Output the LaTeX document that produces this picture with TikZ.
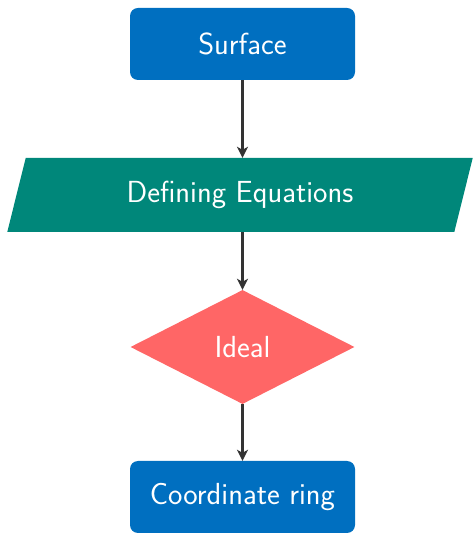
\documentclass[tikz,border=0pt]{standalone}
\usetikzlibrary{shapes.geometric,arrows.meta}

\definecolor{boxblue}{RGB}{0,111,192}
\definecolor{parteal}{RGB}{0,135,122}
\definecolor{diared}{RGB}{255,102,102}
\definecolor{linegray}{RGB}{51,51,51}

\tikzset{
  block/.style={rectangle, rounded corners=8pt, fill=boxblue, text=white,
    minimum width=225pt, minimum height=72pt, inner sep=0pt},
  datapar/.style={trapezium, trapezium left angle=70.6, trapezium right angle=109.4,
    trapezium stretches, fill=parteal, text=white,
    minimum width=466pt, minimum height=74pt, inner sep=0pt},
  decision/.style={diamond, aspect=1.96, fill=diared, text=white,
    minimum width=224pt, minimum height=114pt, inner sep=0pt},
  flowline/.style={-{Stealth[length=11pt,width=11pt,inset=3pt]}, line width=2.1pt, draw=linegray}
}

\begin{document}
\begin{tikzpicture}[x=1pt, y=1pt, font=\sffamily\fontsize{30.5}{36}\selectfont]
    \useasboundingbox (0,0) rectangle (473,533);

    \node[block] (surface) at (242.5, 489) {Surface};
    \node[datapar] (equations) at (240, 338) {Defining Equations};
    \node[decision] (ideal) at (242.5, 186) {Ideal};
    \node[block] (ring) at (242.5, 36) {Coordinate ring};

    \draw[flowline] (surface) -- (surface |- equations.north);
    \draw[flowline] (surface |- equations.south) -- (ideal);
    \draw[flowline] (ideal) -- (ring);

\end{tikzpicture}
\end{document}
